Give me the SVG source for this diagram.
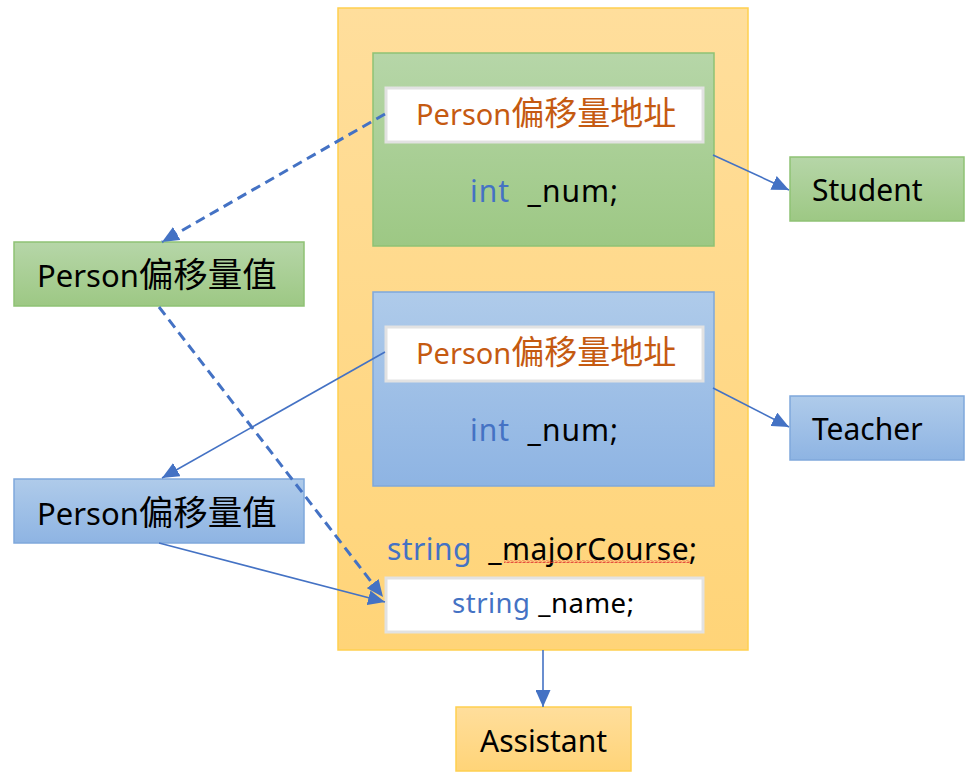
<svg xmlns="http://www.w3.org/2000/svg" width="972" height="781" viewBox="0 0 972 781">
<defs>
<linearGradient id="gGreen" x1="0" y1="0" x2="0" y2="1"><stop offset="0" stop-color="#B6D6A8"/><stop offset="1" stop-color="#9DC884"/></linearGradient>
<linearGradient id="gBlue" x1="0" y1="0" x2="0" y2="1"><stop offset="0" stop-color="#AFCBEA"/><stop offset="1" stop-color="#8EB4E3"/></linearGradient>
<linearGradient id="gOrange" x1="0" y1="0" x2="0" y2="1"><stop offset="0" stop-color="#FFDE9C"/><stop offset="1" stop-color="#FFD478"/></linearGradient>
<marker id="arr" viewBox="0 0 17 15" refX="17" refY="7.5" markerWidth="17" markerHeight="15" markerUnits="userSpaceOnUse" orient="auto"><path d="M0,0 L17,7.5 L0,15 Z" fill="#4472C4"/></marker>
<pattern id="wavy" x="0" y="0" width="4" height="3" patternUnits="userSpaceOnUse"><path d="M0,2.5 L1,0.5 L3,2.5 L4,0.5" fill="none" stroke="#E03030" stroke-width="0.8"/></pattern>
</defs>
<style>
.t{font-family:"Noto Sans","Noto Sans CJK SC",sans-serif;fill:#000}
.kw{fill:#4472C4}
.or{fill:#C55A11}
.g{fill:url(#gGreen);stroke:#8FC274;stroke-width:1.5}
.b{fill:url(#gBlue);stroke:#7FA8DB;stroke-width:1.5}
.o{fill:url(#gOrange);stroke:#FFD04F;stroke-width:1.5}
.w{fill:#fff;stroke:#E2E2E2;stroke-width:3}
.ln{stroke:#4472C4;stroke-width:1.6;fill:none;marker-end:url(#arr)}
.dl{stroke:#4472C4;stroke-width:3;fill:none;stroke-dasharray:10 6;marker-end:url(#arr)}
</style>
<g id="assistant-object">
<rect class="o" x="338" y="8" width="410" height="642"/>
</g>
<g id="student-part">
<rect class="g" x="373" y="53" width="341" height="193"/>
<rect class="w" x="386" y="88" width="317" height="54"/>
<text class="t or" x="416" y="125" font-size="29">Person<tspan font-size="33">偏移量地址</tspan></text>
<text class="t" x="470" y="202" font-size="30" xml:space="preserve" textLength="148" lengthAdjust="spacing"><tspan class="kw">int</tspan>  _num;</text>
</g>
<g id="teacher-part">
<rect class="b" x="373" y="292" width="341" height="194"/>
<rect class="w" x="386" y="327" width="317" height="54"/>
<text class="t or" x="416" y="364" font-size="29">Person<tspan font-size="33">偏移量地址</tspan></text>
<text class="t" x="470" y="441" font-size="30" xml:space="preserve" textLength="148" lengthAdjust="spacing"><tspan class="kw">int</tspan>  _num;</text>
</g>
<g id="major">
<text class="t" x="387" y="560" font-size="30" xml:space="preserve" textLength="310" lengthAdjust="spacing"><tspan class="kw">string</tspan>  _majorCourse;</text>
<rect x="504" y="560" width="186" height="3" fill="url(#wavy)"/>
</g>
<g id="name-part">
<rect class="w" x="386" y="578" width="317" height="54"/>
<text class="t" x="452" y="613" font-size="27.5" xml:space="preserve" textLength="182" lengthAdjust="spacing"><tspan class="kw">string</tspan> _name;</text>
</g>
<g id="student">
<rect class="g" x="790" y="157" width="174" height="64"/>
<text class="t" x="812" y="201" font-size="30">Student</text>
</g>
<g id="teacher">
<rect class="b" x="790" y="396" width="174" height="64"/>
<text class="t" x="812" y="440" font-size="30">Teacher</text>
</g>
<g id="assistant">
<rect class="o" x="456" y="707" width="175" height="64"/>
<text class="t" x="543.5" y="752" font-size="30" text-anchor="middle">Assistant</text>
</g>
<g id="offset-green">
<rect class="g" x="14" y="242" width="290" height="64"/>
<text class="t" x="37" y="287" font-size="31">Person<tspan font-size="34.5">偏移量值</tspan></text>
</g>
<g id="offset-blue">
<rect class="b" x="14" y="479" width="290" height="64"/>
<text class="t" x="37" y="525" font-size="31">Person<tspan font-size="34.5">偏移量值</tspan></text>
</g>
<g id="connectors">
<line class="dl" x1="385" y1="114" x2="162" y2="242"/>
<line class="ln" x1="713" y1="155" x2="789" y2="190"/>
<line class="ln" x1="385" y1="352" x2="162" y2="478"/>
<line class="ln" x1="713" y1="388" x2="789" y2="427"/>
<line class="dl" x1="159" y1="307" x2="383" y2="597"/>
<line class="ln" x1="159" y1="543" x2="385" y2="602"/>
<line class="ln" x1="543" y1="650" x2="543" y2="707"/>
</g>
</svg>
